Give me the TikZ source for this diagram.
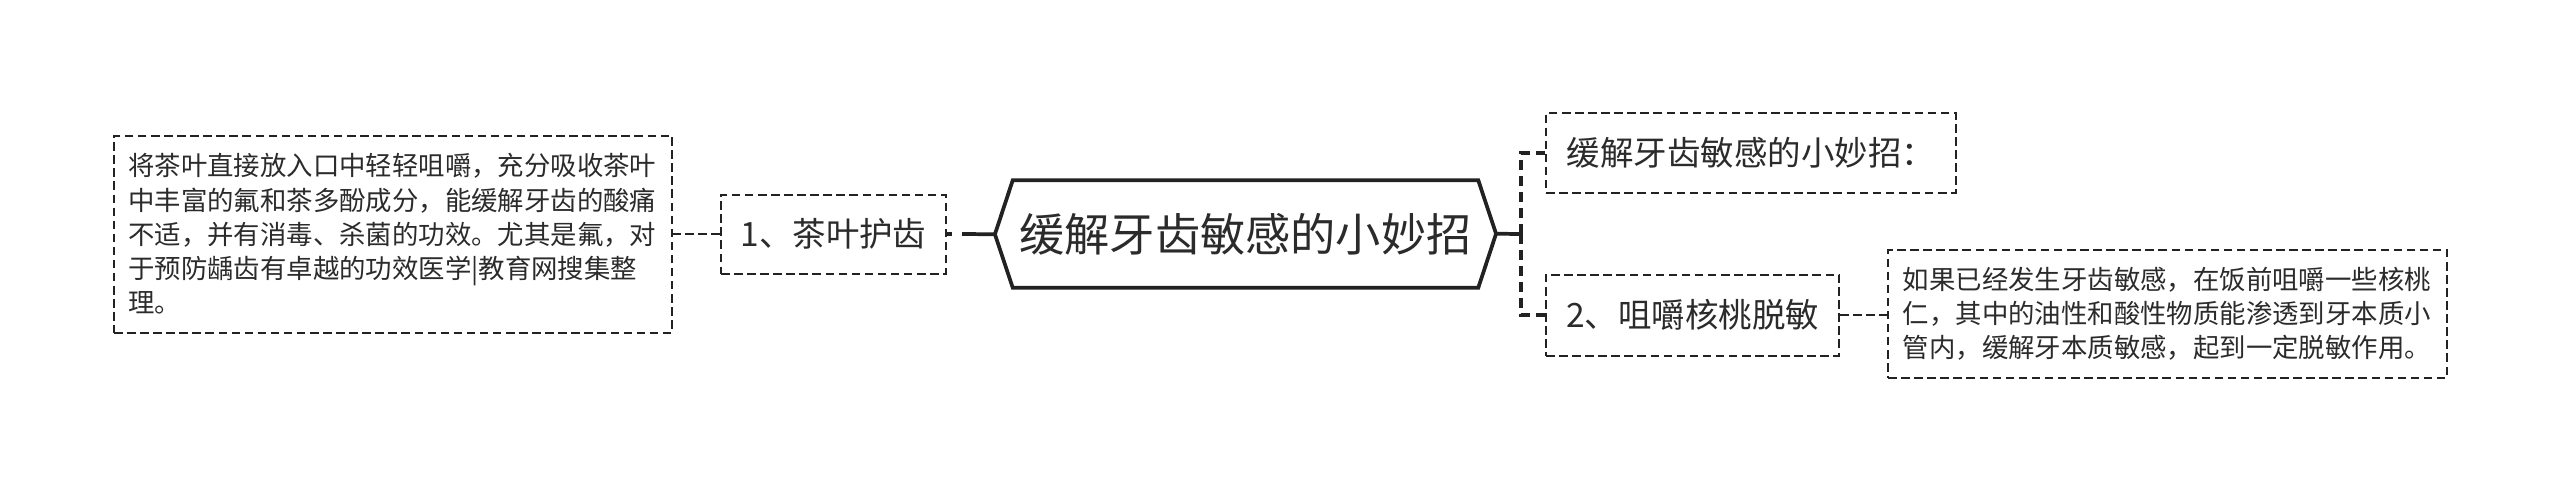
\documentclass[tikz,border=0pt]{standalone}
\usepackage{fontspec}
\setmainfont{Noto Sans CJK SC}
\definecolor{linec}{HTML}{222222}
\definecolor{textc}{HTML}{2B2B2B}
\begin{document}
\begin{tikzpicture}[x=0.75pt,y=-0.75pt,
  dashbox/.style={draw=linec, line width=1.5pt, dash pattern=on 6.4pt off 3.4pt, inner sep=0pt, text=textc},
  smalltext/.style={font=\fontsize{19.8pt}{25.65pt}\selectfont, align=left, text width=397pt},
  midtext/.style={font=\fontsize{25.1pt}{30pt}\selectfont},
  thickdash/.style={draw=linec, line width=3pt, dash pattern=on 7.5pt off 4.5pt, line join=miter},
  thickline/.style={draw=linec, line width=2.8pt}]
\useasboundingbox[fill=white] (0,0) rectangle (2560,493);

% central hexagon
\node[text=textc, font=\fontsize{33.9pt}{40pt}\selectfont, minimum width=348.75pt, minimum height=80.25pt, inner sep=0pt] (hex) at (1245.5,234) {缓解牙齿敏感的小妙招};
\draw[thickline, line join=miter] (hex.north west) -- (hex.north east) -- ++(17.8,53.5) coordinate (hexR) -- (hex.south east) -- (hex.south west) -- ++(-17.8,-53.5) coordinate (hexL) -- cycle;

% left side
\node[dashbox, midtext, minimum width=168.75pt, minimum height=59.25pt] (n1) at (833.5,234) {1、茶叶护齿};
\node[dashbox, smalltext, inner xsep=10.75pt, minimum height=147.75pt] (lb) at (393,234) {将茶叶直接放入口中轻轻咀嚼，充分吸收茶叶\\中丰富的氟和茶多酚成分，能缓解牙齿的酸痛\\不适，并有消毒、杀菌的功效。尤其是氟，对\\于预防龋齿有卓越的功效医学|教育网搜集整\\理。};

% right side
\node[dashbox, midtext, minimum width=307.5pt, minimum height=60pt] (t1) at (1751,153) {缓解牙齿敏感的小妙招：};
\node[dashbox, midtext, minimum width=219.75pt, minimum height=60.75pt] (n2) at (1692.5,315) {2、咀嚼核桃脱敏};
\node[dashbox, smalltext, inner xsep=11.1pt, minimum height=96pt] (rb) at (2167.5,314) {如果已经发生牙齿敏感，在饭前咀嚼一些核桃\\仁，其中的油性和酸性物质能渗透到牙本质小\\管内，缓解牙本质敏感，起到一定脱敏作用。};

\coordinate (j) at (1521,234);
\coordinate (jl) at (962,234);

% connectors
\draw[thickline] (hexL) -- (jl);
\draw[thickdash, dash pattern=on 3.5pt off 8.5pt] (n1.east) -- (jl);
\draw[dashbox] (n1.west) -- (lb.east);
\draw[thickline] (hexR) -- (j);
\draw[thickdash] (j) |- (t1.west);
\draw[thickdash] (j) |- (n2.west);
\draw[dashbox] (n2.east) -- (rb.west |- n2.east);
\end{tikzpicture}
\end{document}
